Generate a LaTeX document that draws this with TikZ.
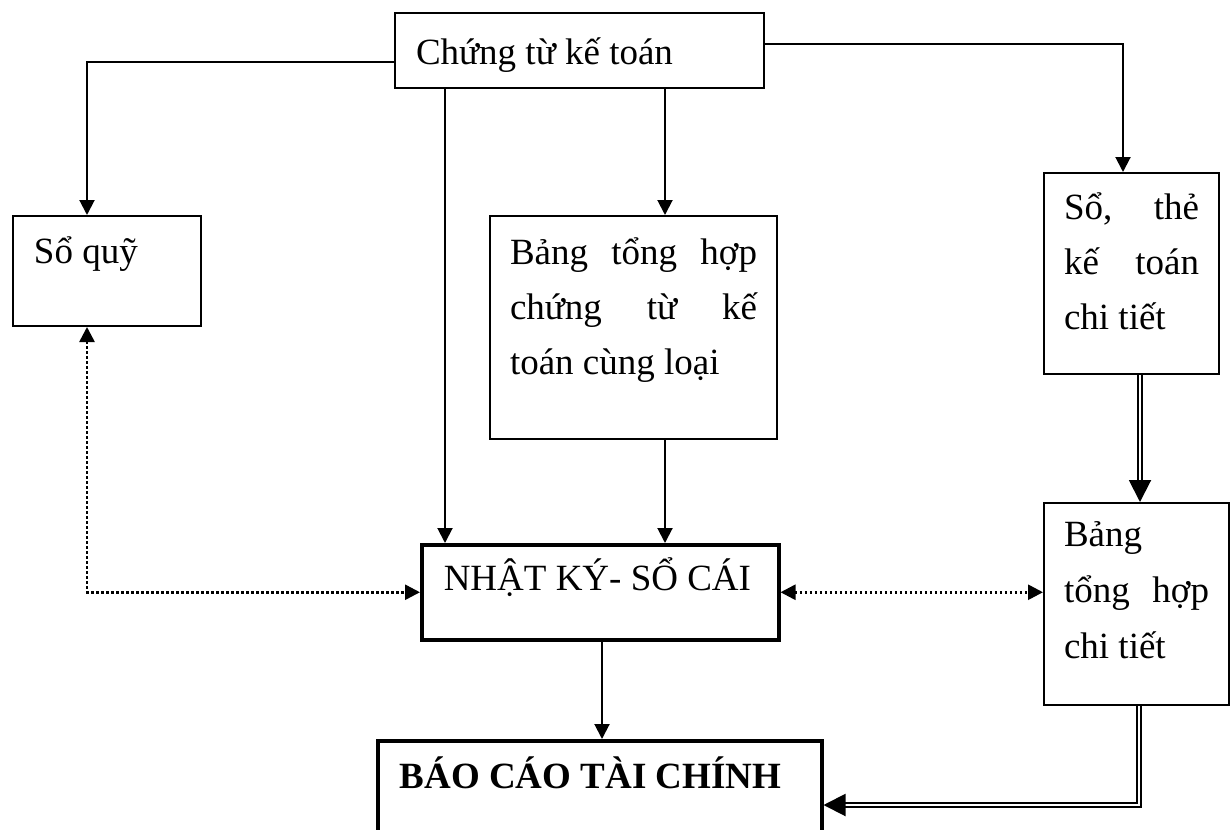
\documentclass[tikz,border=0pt]{standalone}
\usepackage{fontspec}
\setmainfont{Liberation Serif}
\usepackage{tikz}
\usetikzlibrary{arrows.meta, calc}
\tikzstyle{box} = [rectangle, draw=black, line width=2pt, anchor=north west,
    inner ysep=0pt, align=flush left]
\tikzstyle{bigbox} = [box, line width=3.5pt]
\tikzstyle{arrow} = [line width=2pt, -{Triangle[length=15pt,width=15pt]}]
\tikzstyle{dblarrow} = [line width=2pt, double, double distance=2.5pt,
    -{Triangle[length=22pt,width=22pt]}]
\tikzstyle{dotarrow} = [line width=2.6pt, dash pattern=on 2.5pt off 2.5pt,
    {Triangle[length=15pt,width=15pt]}-{Triangle[length=15pt,width=15pt]}]
\newcommand{\spread}[1]{\makebox[\hsize][s]{#1}}

\begin{document}
\begin{tikzpicture}[x=1pt, y=-1pt, font=\fontsize{37}{55}\selectfont]
\useasboundingbox (0,0) rectangle (1232,830);
% --- o chung tu (tren cung) ---
\node (chungtu) [box, inner xsep=21pt, text width=327pt, text height=51pt, text depth=24pt]
    at (394,12) {Chứng từ kế toán};
% --- hang giua ---
\node (soquy) [box, inner xsep=21pt, text width=146pt, text height=47pt, text depth=63pt]
    at (12,215) {Sổ quỹ};
\node (bangth) [box, inner xsep=20pt, text width=247pt, text height=48pt, text depth=175pt]
    at (489,215) {\spread{Bảng tổng hợp}\\ \spread{chứng từ kế}\\ toán cùng loại};
\node (sothe) [box, inner xsep=20pt, text width=135pt, text height=46pt, text depth=155pt]
    at (1043,172) {\spread{Sổ, thẻ}\\ \spread{kế toán}\\ chi tiết};
\node (bangct) [box, inner xsep=20pt, text width=145pt, text height=43pt, text depth=159pt,
    font=\fontsize{37}{56}\selectfont]
    at (1043,502) {Bảng\\ \spread{tổng hợp}\\ chi tiết};
% --- so cai va bao cao ---
\node (nhatky) [bigbox, inner xsep=22pt, text width=313pt, text height=46pt, text depth=49pt]
    at (420,543) {NHẬT KÝ- SỔ CÁI};
\node (baocao) [bigbox, inner xsep=22pt, text width=400pt, text height=48pt, text depth=93pt]
    at (376,739) {\textbf{BÁO CÁO TÀI CHÍNH}};

% --- mui ten tu chung tu ---
\draw[arrow] ([yshift=-11.5pt]chungtu.west) -| ([xshift=75pt]soquy.north west);
\draw[arrow] ([xshift=51pt]chungtu.south west) -- ([xshift=51pt]chungtu.south west |- nhatky.north);
\draw[arrow] ([xshift=271pt]chungtu.south west) -- ([xshift=271pt]chungtu.south west |- bangth.north);
\draw[arrow] ([yshift=6.5pt]chungtu.east) -| ([xshift=80pt]sothe.north west);

% --- vao nhat ky - so cai ---
\draw[arrow] ([xshift=176pt]bangth.south west) -- ([xshift=176pt]bangth.south west |- nhatky.north);
\draw[arrow] ([xshift=182pt]nhatky.south west) -- ([xshift=182pt]nhatky.south west |- baocao.north);

% --- doi chieu (net cham) ---
\draw[dotarrow] ([xshift=75pt]soquy.south west) |- (nhatky.west);
\draw[dotarrow] (nhatky.east) -- (nhatky.east -| bangct.west);

% --- net doi ---
\draw[dblarrow] ([xshift=97pt]sothe.south west) -- ([xshift=97pt]sothe.south west |- bangct.north);
\draw[dblarrow] ([xshift=96pt]bangct.south west) |- ([yshift=-66pt]baocao.north east);
\end{tikzpicture}
\end{document}
